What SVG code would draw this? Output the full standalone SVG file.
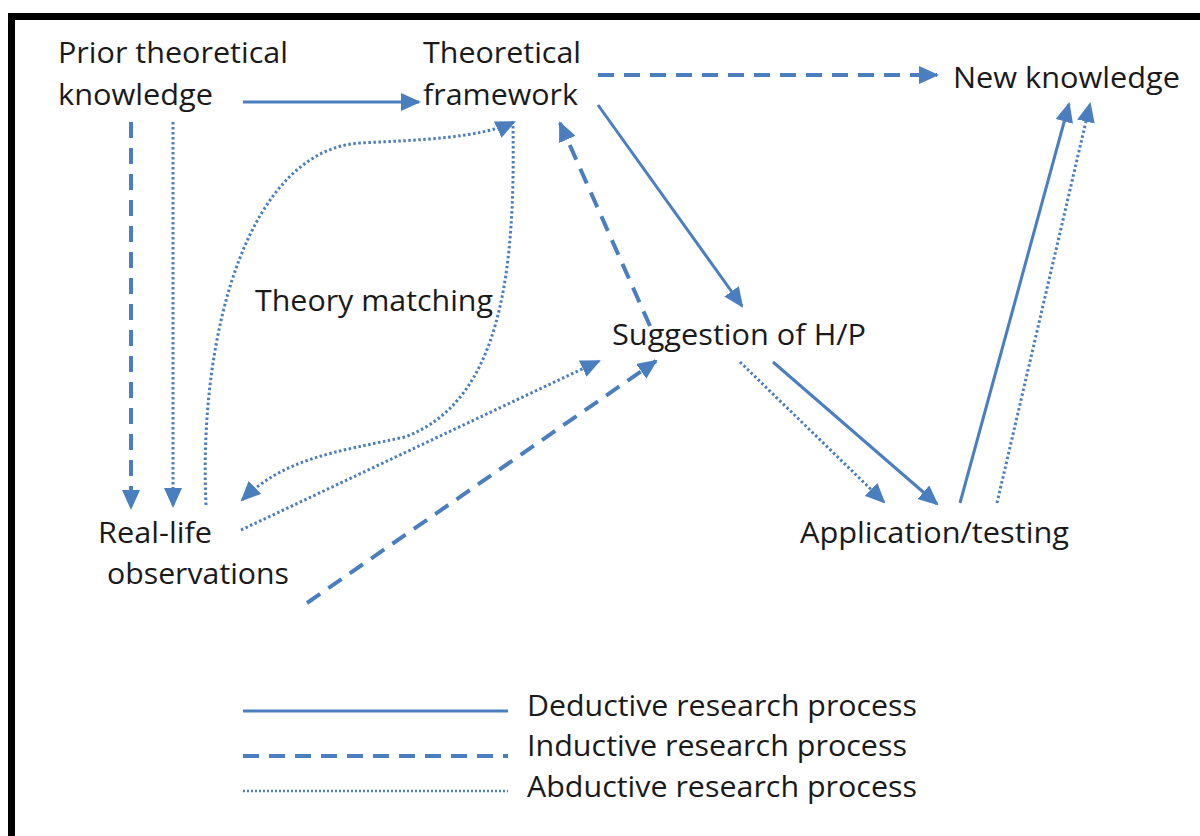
<svg xmlns="http://www.w3.org/2000/svg" width="1200" height="836" viewBox="0 0 1200 836">
<style>
.t{font-family:"Open Sans","Noto Sans",sans-serif;font-size:29px;fill:#1a1a1a;font-variant-ligatures:none}
.c{fill:none;stroke:#4a7ebf}
.sol{stroke-width:3}
.dash{stroke-width:4;stroke-dasharray:16 10}
.dot{stroke-width:3;stroke-dasharray:2.5 2.5}
</style>
<defs>
<marker id="ah" markerUnits="userSpaceOnUse" markerWidth="20" markerHeight="18" refX="18" refY="9" orient="auto">
<path d="M0,0 L20,9 L0,18 Z" fill="#4a7ebf"/>
</marker>
</defs>
<rect x="0" y="0" width="1200" height="836" fill="#fff"/>
<rect x="11.5" y="16.5" width="1300" height="1000" fill="none" stroke="#000" stroke-width="7"/>
<g id="prior"><text class="t" x="58" y="63" textLength="230" lengthAdjust="spacingAndGlyphs">Prior theoretical</text><text class="t" x="58" y="105" textLength="155" lengthAdjust="spacingAndGlyphs">knowledge</text></g>
<g id="framework"><text class="t" x="423" y="63" textLength="158" lengthAdjust="spacingAndGlyphs">Theoretical</text><text class="t" x="423" y="105" textLength="155" lengthAdjust="spacingAndGlyphs">framework</text></g>
<g id="newknowledge"><text class="t" x="953" y="88" textLength="227" lengthAdjust="spacingAndGlyphs">New knowledge</text></g>
<g id="theorymatching"><text class="t" x="255" y="311" textLength="238" lengthAdjust="spacingAndGlyphs">Theory matching</text></g>
<g id="suggestion"><text class="t" x="612" y="345" textLength="254" lengthAdjust="spacingAndGlyphs">Suggestion of H/P</text></g>
<g id="observations"><text class="t" x="98" y="543" textLength="114" lengthAdjust="spacingAndGlyphs">Real-life</text><text class="t" x="107" y="584" textLength="182" lengthAdjust="spacingAndGlyphs">observations</text></g>
<g id="application"><text class="t" x="800" y="543" textLength="269" lengthAdjust="spacingAndGlyphs">Application/testing</text></g>
<g id="connectors">
<path class="c sol" d="M243,102 L419,102" marker-end="url(#ah)"/>
<path class="c dash" d="M598,75 L937,75" marker-end="url(#ah)"/>
<path class="c sol" d="M598,105 L742,306" marker-end="url(#ah)"/>
<path class="c dash" d="M650,326 L560,123" marker-end="url(#ah)"/>
<path class="c sol" d="M773,362 L937,504" marker-end="url(#ah)"/>
<path class="c dot" d="M740,362 L884,502" marker-end="url(#ah)"/>
<path class="c sol" d="M960,503 L1069,104" marker-end="url(#ah)"/>
<path class="c dot" d="M997,503 L1090,104" marker-end="url(#ah)"/>
<path class="c dash" d="M131,122 L131,508" marker-end="url(#ah)"/>
<path class="c dot" d="M173,122 L173,506" marker-end="url(#ah)"/>
<path class="c dot" d="M206,505 C198,330 250,150 360,143 C420,140 480,138 514,122" marker-end="url(#ah)"/>
<path class="c dot" d="M513,126 C515,260 505,400 405,437 C335,452 285,458 242,500" marker-end="url(#ah)"/>
<path class="c dot" d="M241,530 L599,361" marker-end="url(#ah)"/>
<path class="c dash" d="M307,603 L656,361" marker-end="url(#ah)"/>
</g>
<g id="legend">
<line class="c sol" x1="243" y1="711" x2="508" y2="711" stroke-width="4"/>
<line class="c dash" x1="243" y1="756" x2="508" y2="756"/>
<line class="c" x1="243" y1="791" x2="508" y2="791" stroke-width="2.5" stroke-dasharray="2 2"/>
<text class="t" x="527" y="716" textLength="390" lengthAdjust="spacingAndGlyphs">Deductive research process</text>
<text class="t" x="527" y="756" textLength="380" lengthAdjust="spacingAndGlyphs">Inductive research process</text>
<text class="t" x="527" y="797" textLength="390" lengthAdjust="spacingAndGlyphs">Abductive research process</text>
</g>
</svg>
